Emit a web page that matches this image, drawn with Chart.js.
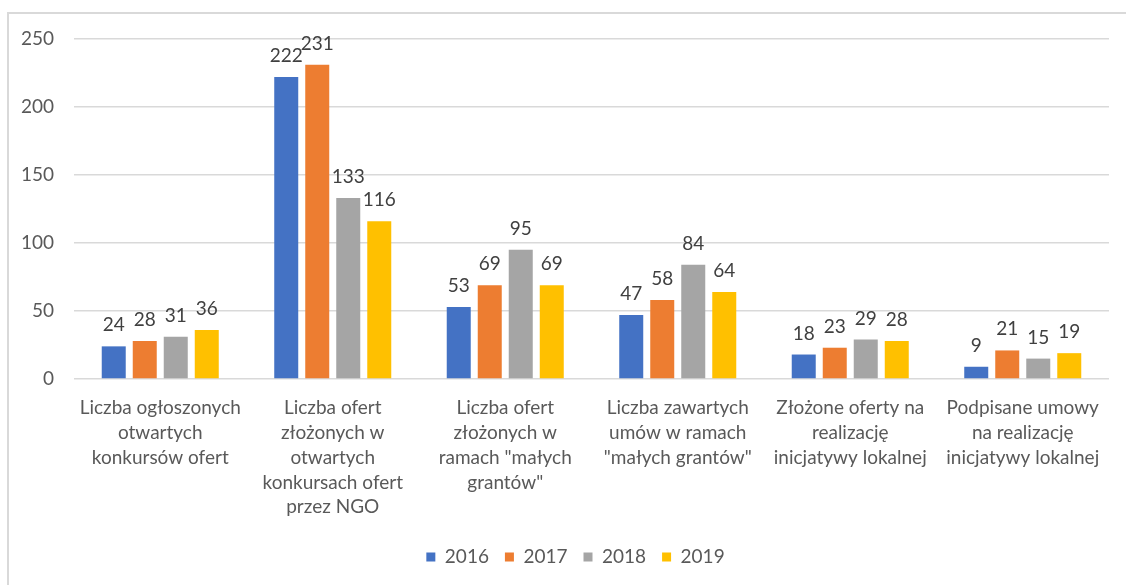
<!DOCTYPE html>
<html>
<head>
<meta charset="utf-8">
<script src="https://cdn.jsdelivr.net/npm/chart.js@4.4.1/dist/chart.umd.min.js"></script>
<style>
  html, body { margin: 0; padding: 0; background: #ffffff; }
  #c { display: block; }
</style>
</head>
<body>
<canvas id="c" width="1126" height="585"></canvas>
<script>
const categories = [
  ["Liczba ogłoszonych", "otwartych", "konkursów ofert"],
  ["Liczba ofert", "złożonych w", "otwartych", "konkursach ofert", "przez NGO"],
  ["Liczba ofert", "złożonych w", "ramach \"małych", "grantów\""],
  ["Liczba zawartych", "umów w ramach", "\"małych grantów\""],
  ["Złożone oferty na", "realizację", "inicjatywy lokalnej"],
  ["Podpisane umowy", "na realizację", "inicjatywy lokalnej"]
];
const seriesNames = ["2016", "2017", "2018", "2019"];
const values2016 = [24, 222, 53, 47, 18, 9];
const values2017 = [28, 231, 69, 58, 23, 21];
const values2018 = [31, 133, 95, 84, 29, 15];
const values2019 = [36, 116, 69, 64, 28, 19];
const seriesColors = ["#4472C4", "#ED7D31", "#A5A5A5", "#FFC000"];
const yTicks = [0, 50, 100, 150, 200, 250];

const FONT = "Lato, 'Open Sans', sans-serif";

const frame = {
  id: 'frame',
  beforeDraw(chart) {
    const ctx = chart.ctx;
    ctx.save();
    ctx.fillStyle = '#ffffff';
    ctx.fillRect(0, 0, chart.width, chart.height);
    ctx.strokeStyle = '#d9d9d9';
    ctx.lineWidth = 2;
    ctx.strokeRect(8, 13, 1200, 700);
    ctx.restore();
  }
};

const legendShift = {
  id: 'legendShift',
  afterLayout(chart) {
    if (chart.legend) {
      chart.legend.left += 14;
      chart.legend.right += 14;
    }
  }
};

const valueLabels = {
  id: 'valueLabels',
  afterDatasetsDraw(chart) {
    const ctx = chart.ctx;
    ctx.save();
    ctx.font = "19px " + FONT;
    ctx.fillStyle = '#404040';
    ctx.textAlign = 'center';
    ctx.textBaseline = 'alphabetic';
    chart.data.datasets.forEach((ds, i) => {
      const meta = chart.getDatasetMeta(i);
      meta.data.forEach((el, j) => {
        ctx.fillText(String(ds.data[j]), el.x, el.y - 15);
      });
    });
    ctx.restore();
  }
};

const allValues = [values2016, values2017, values2018, values2019];

new Chart(document.getElementById('c'), {
  type: 'bar',
  data: {
    labels: categories,
    datasets: seriesNames.map((n, i) => ({
      label: n,
      data: allValues[i],
      backgroundColor: seriesColors[i],
      borderWidth: 0,
      categoryPercentage: 0.719,
      barPercentage: 0.774
    }))
  },
  options: {
    responsive: false,
    animation: false,
    devicePixelRatio: 1,
    layout: { padding: { left: 14, right: 17, top: 39, bottom: 8.5 } },
    plugins: {
      tooltip: { enabled: false },
      legend: {
        position: 'bottom',
        labels: {
          boxWidth: 9,
          boxHeight: 9,
          padding: 16,
          color: '#595959',
          font: { family: FONT, size: 19 }
        }
      }
    },
    scales: {
      x: {
        grid: { display: false, drawTicks: false },
        border: { display: false },
        ticks: {
          autoSkip: false,
          maxRotation: 0,
          minRotation: 0,
          padding: 17,
          color: '#595959',
          font: { family: FONT, size: 19, lineHeight: 1.3 }
        },
        afterFit(scale) { scale.height = 152.5; }
      },
      y: {
        min: 0,
        max: 250,
        afterBuildTicks(scale) { scale.ticks = yTicks.map(v => ({ value: v })); },
        grid: { color: '#d9d9d9', lineWidth: 1.5, drawTicks: false },
        border: { display: false },
        ticks: {
          padding: 20,
          color: '#595959',
          font: { family: FONT, size: 19 }
        },
        afterFit(scale) { scale.width = 60; }
      }
    }
  },
  plugins: [frame, legendShift, valueLabels]
});
</script>
</body>
</html>
